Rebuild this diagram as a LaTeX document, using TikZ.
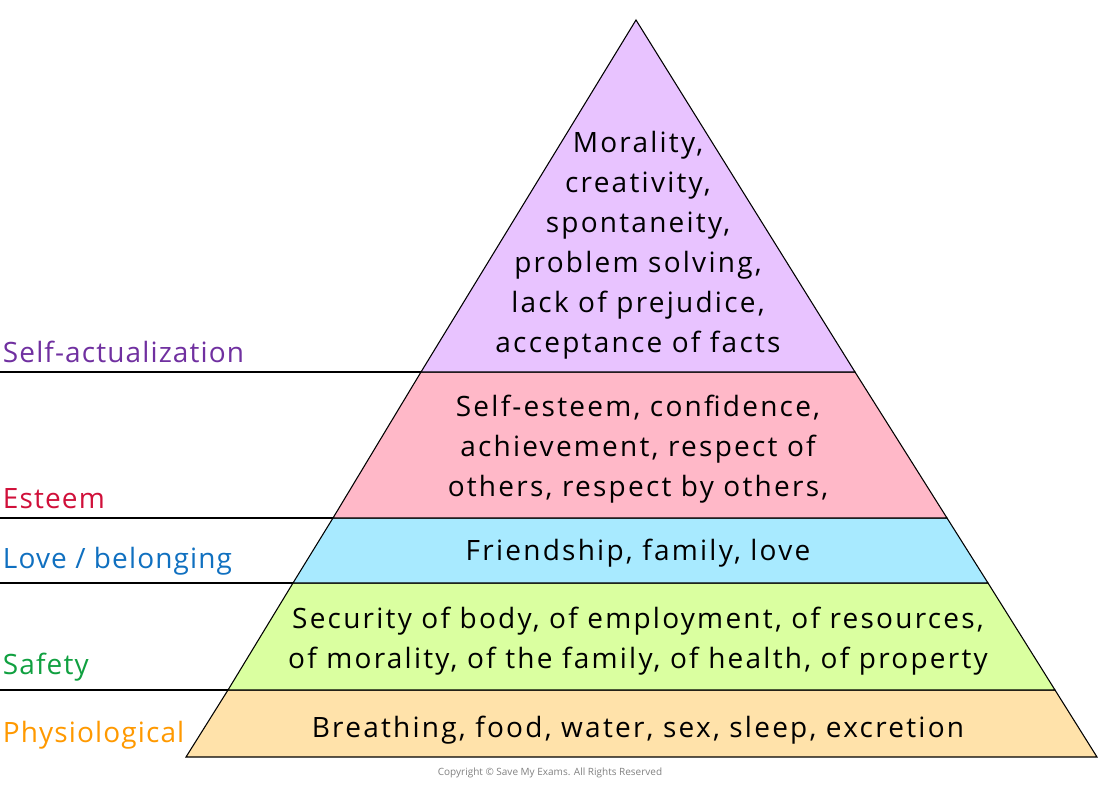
\documentclass[tikz,border=0pt]{standalone}
\usepackage{fontspec}
\setmainfont{Open Sans}[LetterSpace=8]
\usetikzlibrary{positioning}
\definecolor{topfill}{HTML}{E8C3FF}
\definecolor{esteemfill}{HTML}{FFB8C8}
\definecolor{lovefill}{HTML}{A8EAFF}
\definecolor{safefill}{HTML}{DAFFA0}
\definecolor{physfill}{HTML}{FFE2AA}
\definecolor{selfcol}{HTML}{7030A0}
\definecolor{esteemcol}{HTML}{D0103A}
\definecolor{lovecol}{HTML}{1070C0}
\definecolor{safecol}{HTML}{10A040}
\definecolor{physcol}{HTML}{FF9900}
\begin{document}
\begin{tikzpicture}[x=0.75pt,y=-0.75pt,
    level/.style={draw=black,line width=0.8pt},
    body text/.style={font=\fontsize{21}{30}\selectfont,align=center},
    side label/.style={anchor=south west,inner sep=2pt,font=\fontsize{21}{26}\addfontfeature{LetterSpace=4}}]
  \useasboundingbox (0,0) rectangle (1100,800);
  % levels, bottom to top
  \filldraw[level,fill=physfill] (186,757) -- (1097,757) -- (1055,690) -- (228,690) -- cycle;
  \filldraw[level,fill=safefill] (228,690) -- (1055,690) -- (988,583) -- (293,583) -- cycle;
  \filldraw[level,fill=lovefill] (293,583) -- (988,583) -- (947,518) -- (333,518) -- cycle;
  \filldraw[level,fill=esteemfill] (333,518) -- (947,518) -- (855,372) -- (421,372) -- cycle;
  \filldraw[level,fill=topfill] (421,372) -- (855,372) -- (636,20) -- cycle;
  % side lines
  \coordinate (l1) at (0,372); \coordinate (r1) at (421,372);
  \coordinate (l2) at (0,518); \coordinate (r2) at (333,518);
  \coordinate (l3) at (0,583); \coordinate (r3) at (293,583);
  \coordinate (l4) at (0,690); \coordinate (r4) at (228,690);
  \foreach \i in {1,...,4} \draw[line width=0.8pt] (l\i) -- (r\i);
  % texts
  \node[body text] (top) at (638,245) {Morality,\\creativity,\\spontaneity,\\problem solving,\\lack of prejudice,\\acceptance of facts};
  \node[body text] (est) at (638,449) {Self-esteem, confidence,\\achievement, respect of\\others, respect by others,};
  \node[body text] (lov) at (638,553) {Friendship, family, love};
  \node[body text] (saf) at (638,641) {Security of body, of employment, of resources,\\of morality, of the family, of health, of property};
  \node[body text] (phy) at (638,730) {Breathing, food, water, sex, sleep, excretion};
  % labels
  \node[side label,text=selfcol] (s1) at (0,366) {Self-actualization};
  \node[side label,text=esteemcol] (s2) at (0,512) {Esteem};
  \node[side label,text=lovecol] (s3) at (0,578) {Love / belonging};
  \node[side label,text=safecol] (s4) at (0,684) {Safety};
  \node[side label,text=physcol] (s5) at (0,752) {Physiological};
  \node[text=gray,font=\fontsize{7.5}{9}\selectfont\addfontfeature{LetterSpace=0}] (copy) at (550,773) {Copyright © Save My Exams. All Rights Reserved};
\end{tikzpicture}
\end{document}
